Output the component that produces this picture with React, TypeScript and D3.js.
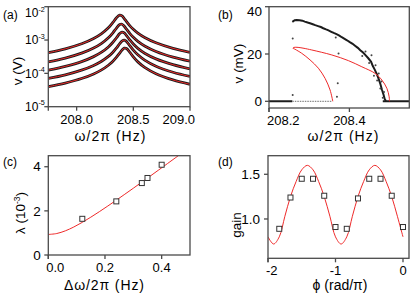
import React from "react";
import * as d3 from "d3";

const FONT = "'Liberation Sans', Arial, Helvetica, sans-serif";
const RED = "#ee2a2a";
const AXIS = "#4a4a4a";
const INK = "#1c1c1c";

// ---------- (a) resonance curves (V) ----------
const freqA = [207.75, 207.9, 208.05, 208.15, 208.22, 208.28, 208.32, 208.35, 208.38, 208.4, 208.42, 208.44, 208.47, 208.5, 208.54, 208.6, 208.7, 208.85, 209.0];
const ampA1 = [4.16e-4, 5.45e-4, 7.86e-4, 1.11e-3, 1.56e-3, 2.33e-3, 3.36e-3, 4.6e-3, 5.61e-3, 5.28e-3, 4.42e-3, 3.58e-3, 2.67e-3, 2.1e-3, 1.61e-3, 1.19e-3, 8.25e-4, 5.63e-4, 4.27e-4];
const ampA2 = [2.2e-4, 2.87e-4, 4.11e-4, 5.75e-4, 7.96e-4, 1.17e-3, 1.65e-3, 2.25e-3, 2.92e-3, 2.98e-3, 2.59e-3, 2.11e-3, 1.56e-3, 1.21e-3, 9.14e-4, 6.65e-4, 4.55e-4, 3.08e-4, 2.33e-4];
const ampA3 = [1.25e-4, 1.62e-4, 2.29e-4, 3.18e-4, 4.32e-4, 6.21e-4, 8.57e-4, 1.15e-3, 1.56e-3, 1.73e-3, 1.63e-3, 1.36e-3, 9.98e-4, 7.57e-4, 5.64e-4, 4.03e-4, 2.72e-4, 1.82e-4, 1.36e-4];
const ampA4 = [7.02e-5, 9.03e-5, 1.27e-4, 1.73e-4, 2.31e-4, 3.22e-4, 4.32e-4, 5.69e-4, 7.78e-4, 9.33e-4, 1.0e-3, 9.06e-4, 6.7e-4, 4.97e-4, 3.6e-4, 2.5e-4, 1.64e-4, 1.08e-4, 8.05e-5];
const ampA5 = [3.98e-5, 5.12e-5, 7.12e-5, 9.63e-5, 1.27e-4, 1.75e-4, 2.31e-4, 3.0e-4, 4.07e-4, 4.99e-4, 5.69e-4, 5.55e-4, 4.25e-4, 3.11e-4, 2.21e-4, 1.51e-4, 9.76e-5, 6.35e-5, 4.7e-5];
const ticksA_x = [208.0, 208.5, 209.0];
const ticksA_xLabels = ["208.0", "208.5", "209.0"];
const ticksA_y = [1e-5, 1e-4, 1e-3, 1e-2];
const ticksA_yExp = ["-5", "-4", "-3", "-2"];

// ---------- (b) bistable response (mV) ----------
const upperF = [208.258, 208.264, 208.269, 208.276, 208.283, 208.289, 208.296, 208.302, 208.309, 208.315, 208.322, 208.329, 208.335, 208.342, 208.348, 208.355, 208.361, 208.368, 208.375, 208.381, 208.388, 208.394, 208.401, 208.408, 208.414, 208.421, 208.427, 208.434, 208.44, 208.447, 208.454, 208.458, 208.463, 208.468, 208.473, 208.477, 208.481, 208.485, 208.488, 208.491];
const upperV = [33.6, 34.3, 34.4, 34.3, 34.1, 33.7, 33.3, 33.0, 32.6, 32.2, 31.8, 31.4, 30.9, 30.4, 30.0, 29.4, 28.9, 28.4, 27.8, 27.1, 26.4, 25.8, 25.0, 24.3, 23.5, 22.6, 21.6, 20.6, 19.5, 18.2, 16.7, 15.0, 13.4, 11.6, 9.4, 7.3, 4.9, 2.8, 0.9, 0.1];
const scatterF = [208.366, 208.432, 208.44, 208.449, 208.455, 208.461, 208.465, 208.469, 208.473, 208.477, 208.48, 208.486, 208.483, 208.373, 208.259, 208.259, 208.371, 208.369];
const scatterV = [27.0, 19.2, 21.1, 16.2, 19.5, 10.8, 15.2, 8.8, 11.8, 5.4, 8.4, 3.9, 1.5, 20.2, 26.6, 2.7, 7.6, 1.9];
const zeroBlackLow = [208.2, 208.258];
const zeroGreyLow = [208.258, 208.356];
const zeroBlackHigh = [208.483, 208.549];
const fitBF = [208.3587, 208.3519, 208.3395, 208.3228, 208.3021, 208.2814, 208.2648, 208.2593, 208.2623, 208.2723, 208.2871, 208.3064, 208.3562, 208.3975, 208.4309, 208.464, 208.4807, 208.4932, 208.4989, 208.4996];
const fitBV = [0, 4.8, 9.7, 14.0, 17.5, 20.3, 22.0, 22.5, 22.8, 22.8, 22.4, 21.7, 19.6, 17.2, 14.6, 11.8, 9.0, 5.5, 1.9, 0];
const ticksB_x = [208.2, 208.4];
const ticksB_xLabels = ["208.2", "208.4"];
const ticksB_y = [0, 20, 40];

// ---------- (c) lambda vs detuning ----------
const detuning = [0.12, 0.24, 0.33, 0.35, 0.4];
const lambdaVals = [1.64, 2.43, 3.26, 3.49, 4.09];
const fitDetuning = [0, 0.03, 0.06, 0.09, 0.12, 0.15, 0.18, 0.21, 0.24, 0.27, 0.3, 0.33, 0.36, 0.39, 0.42, 0.45, 0.48];
const fitLambda = [0.93, 0.974, 1.094, 1.269, 1.48, 1.714, 1.962, 2.22, 2.485, 2.754, 3.026, 3.302, 3.579, 3.858, 4.138, 4.419, 4.701];
const ticksC_x = [0, 0.2, 0.4];
const ticksC_xLabels = ["0.0", "0.2", "0.4"];
const ticksC_y = [0, 2, 4];

// ---------- (d) gain vs phase ----------
const phase = [-1.833, -1.667, -1.5, -1.333, -1.167, -1.0, -0.833, -0.667, -0.5, -0.333, -0.167, 0];
const gainVals = [0.89, 1.24, 1.45, 1.45, 1.26, 0.91, 0.89, 1.23, 1.45, 1.45, 1.26, 0.91];
const fitPhase = [-2, -1.917, -1.833, -1.75, -1.667, -1.583, -1.5, -1.417, -1.333, -1.25, -1.167, -1.083, -1, -0.917, -0.833, -0.75, -0.667, -0.583, -0.5, -0.417, -0.333, -0.25, -0.167, -0.083, 0];
const fitGain = [0.8, 0.72, 0.8, 1.03, 1.25, 1.42, 1.55, 1.6, 1.55, 1.42, 1.25, 1.03, 0.8, 0.72, 0.8, 1.03, 1.25, 1.42, 1.55, 1.6, 1.55, 1.42, 1.25, 1.03, 0.8];
const ticksD_x = [-2, -1, 0];
const ticksD_xLabels = ["-2", "-1", "0"];
const ticksD_y = [1.0, 1.5];
const ticksD_yLabels = ["1.0", "1.5"];

type Box = { x0: number; x1: number; y0: number; y1: number };
const boxA: Box = { x0: 48.3, x1: 190, y0: 6.7, y1: 106.7 };
const boxB: Box = { x0: 269, x1: 409.3, y0: 6.7, y1: 108 };
const boxC: Box = { x0: 48.3, x1: 190, y0: 155.7, y1: 255 };
const boxD: Box = { x0: 268, x1: 409, y0: 155.7, y1: 258.3 };

const FS = 13;
function textW(s: string): number {
  let w = 0;
  for (const c of s) w += c === "." ? 0.278 : c === "-" ? 0.333 : 0.556;
  return w * FS;
}

function Frame({ b }: { b: Box }) {
  return (
    <g stroke={AXIS} strokeWidth={1.3} fill="none">
      <rect x={b.x0} y={b.y0} width={b.x1 - b.x0} height={b.y1 - b.y0} />
      <line x1={b.x0} x2={b.x0} y1={b.y1} y2={b.y1 + 4} />
    </g>
  );
}

function XTicks({ b, scale, ticks, labels }: { b: Box; scale: (v: number) => number; ticks: number[]; labels: string[] }) {
  return (
    <g>
      {ticks.map((t, i) => {
        const x = scale(t);
        const w = textW(labels[i]);
        let cx = Math.max(x, b.x0 - 2 + w / 2);
        cx = Math.min(cx, b.x1 + 5 - w / 2);
        return (
          <g key={i}>
            <line x1={x} x2={x} y1={b.y1} y2={b.y1 + 4} stroke={AXIS} strokeWidth={1.3} />
            <text x={cx} y={b.y1 + 17} textAnchor="middle" fontSize={FS}>{labels[i]}</text>
          </g>
        );
      })}
    </g>
  );
}

function YTicks({ b, scale, ticks, labels, sup, gap, fs = FS }: { b: Box; scale: (v: number) => number; ticks: number[]; labels: string[]; sup?: boolean; gap: number; fs?: number }) {
  return (
    <g>
      {ticks.map((t, i) => {
        const y = scale(t);
        const base = Math.max(y + 0.35 * fs, b.y0 + (sup ? 10.7 : 0.72 * fs));
        return (
          <g key={i}>
            <line x1={b.x0 - 4} x2={b.x0} y1={y} y2={y} stroke={AXIS} strokeWidth={1.3} />
            {sup ? (
              <text x={b.x0 - gap} y={base} textAnchor="end" fontSize={fs}>
                10<tspan dy={-5.5} fontSize={7.2}>{labels[i]}</tspan>
              </text>
            ) : (
              <text x={b.x0 - gap} y={base} textAnchor="end" fontSize={fs}>{labels[i]}</text>
            )}
          </g>
        );
      })}
    </g>
  );
}

function YTitle({ x, y, children }: { x: number; y: number; children: React.ReactNode }) {
  return (
    <text transform={`translate(${x},${y}) rotate(-90)`} textAnchor="middle" dy="0.35em" fontSize={13.5}>
      {children}
    </text>
  );
}

function XTitle({ x, y, w, children }: { x: number; y: number; w?: number; children: React.ReactNode }) {
  return (
    <text x={x} y={y} textAnchor="middle" fontSize={14} textLength={w} lengthAdjust={w ? "spacing" : undefined}>
      {children}
    </text>
  );
}

function Square({ x, y }: { x: number; y: number }) {
  return <rect x={x - 2.5} y={y - 2.5} width={5} height={5} fill="white" stroke="#333" strokeWidth={1} />;
}

export default function App() {
  // (a)
  const xA = d3.scaleLinear().domain([207.75, 209.0]).range([boxA.x0, boxA.x1]);
  const yA = d3.scaleLog().domain([1e-5, 1e-2]).range([boxA.y1, boxA.y0]);
  const lineA = (arr: number[]) =>
    d3.line<number>().x((_, i) => xA(freqA[i])).y((d) => yA(d)).curve(d3.curveCatmullRom.alpha(0.5))(arr) || "";
  const seriesA = [ampA1, ampA2, ampA3, ampA4, ampA5];

  // (b)
  const xB = d3.scaleLinear().domain([208.2, 208.549]).range([boxB.x0, boxB.x1]);
  const yB = d3.scaleLinear().domain([-2.83, 40]).range([boxB.y1, boxB.y0]);
  const upperPath = d3.line<number>().x((_, i) => xB(upperF[i])).y((d) => yB(d))(upperV) || "";
  const fitBPath = d3.line<number>().x((_, i) => xB(fitBF[i])).y((d) => yB(d)).curve(d3.curveCatmullRom.alpha(0.5))(fitBV) || "";

  // (c)
  const xC = d3.scaleLinear().domain([0, 0.5]).range([boxC.x0, boxC.x1]);
  const yC = d3.scaleLinear().domain([0, 4.5]).range([boxC.y1, boxC.y0]);
  const fitCPath = d3.line<number>().x((_, i) => xC(fitDetuning[i])).y((d) => yC(d)).curve(d3.curveCatmullRom.alpha(0.5))(fitLambda) || "";

  // (d)
  const xD = d3.scaleLinear().domain([-2, 0.089]).range([boxD.x0, boxD.x1]);
  const yD = d3.scaleLinear().domain([0.56, 1.708]).range([boxD.y1, boxD.y0]);
  const fitDPath = d3.line<number>().x((_, i) => xD(fitPhase[i])).y((d) => yD(d)).curve(d3.curveCatmullRom.alpha(0.5))(fitGain) || "";

  const clip = (id: string, b: Box) => (
    <clipPath id={id}>
      <rect x={b.x0} y={b.y0} width={b.x1 - b.x0} height={b.y1 - b.y0} />
    </clipPath>
  );

  return (
    <svg width={415} height={293} style={{ position: "absolute", left: 0, top: 0 }} fontFamily={FONT} fill="#000">
      <rect width={415} height={293} fill="white" />
      <defs>
        {clip("cA", boxA)}
        {clip("cB", boxB)}
        {clip("cC", boxC)}
        {clip("cD", boxD)}
      </defs>

      {/* ---------- (a) ---------- */}
      <g clipPath="url(#cA)">
        {seriesA.map((s, i) => (
          <path key={"k" + i} d={lineA(s)} fill="none" stroke={INK} strokeWidth={2.8} />
        ))}
        {seriesA.map((s, i) => (
          <path key={"r" + i} d={lineA(s)} fill="none" stroke={RED} strokeWidth={1} />
        ))}
      </g>
      <Frame b={boxA} />
      <XTicks b={boxA} scale={xA} ticks={ticksA_x} labels={ticksA_xLabels} />
      <YTicks b={boxA} scale={yA} ticks={ticksA_y} labels={ticksA_yExp} sup gap={3.5} fs={12} />
      <YTitle x={17} y={71}>v (V)</YTitle>
      <XTitle x={110} y={141} w={71}>ω/2π (Hz)</XTitle>
      <text x={3} y={19} fontSize={12}>(a)</text>

      {/* ---------- (b) ---------- */}
      <g clipPath="url(#cB)">
        <line x1={xB(zeroBlackLow[0])} x2={xB(zeroBlackLow[1])} y1={yB(0)} y2={yB(0)} stroke={INK} strokeWidth={2} />
        <line x1={xB(zeroGreyLow[0])} x2={xB(zeroGreyLow[1])} y1={yB(0)} y2={yB(0)} stroke="#8a8a8a" strokeWidth={1.3} strokeDasharray="1.5,1" />
        <line x1={xB(zeroBlackHigh[0])} x2={xB(zeroBlackHigh[1])} y1={yB(0)} y2={yB(0)} stroke={INK} strokeWidth={2} />
        <path d={upperPath} fill="none" stroke={INK} strokeWidth={2} />
        {scatterF.map((f, i) => (
          <circle key={i} cx={xB(f)} cy={yB(scatterV[i])} r={1} fill="#444" />
        ))}
        <path d={fitBPath} fill="none" stroke={RED} strokeWidth={1} />
      </g>
      <Frame b={boxB} />
      <XTicks b={boxB} scale={xB} ticks={ticksB_x} labels={ticksB_xLabels} />
      <YTicks b={boxB} scale={yB} ticks={ticksB_y} labels={ticksB_y.map(String)} gap={7} fs={13.5} />
      <YTitle x={238} y={63.5}>v (mV)</YTitle>
      <XTitle x={343} y={141} w={71}>ω/2π (Hz)</XTitle>
      <text x={218} y={19} fontSize={12}>(b)</text>

      {/* ---------- (c) ---------- */}
      <g clipPath="url(#cC)">
        <path d={fitCPath} fill="none" stroke={RED} strokeWidth={1} />
        {detuning.map((d, i) => (
          <Square key={i} x={xC(d)} y={yC(lambdaVals[i])} />
        ))}
      </g>
      <Frame b={boxC} />
      <XTicks b={boxC} scale={xC} ticks={ticksC_x} labels={ticksC_xLabels} />
      <YTicks b={boxC} scale={yC} ticks={ticksC_y} labels={ticksC_y.map(String)} gap={7.5} fs={13.5} />
      <YTitle x={20} y={213}>
        λ (10<tspan dy={-5} fontSize={8.5}>-3</tspan><tspan dy={5}>)</tspan>
      </YTitle>
      <XTitle x={104} y={290} w={80}>Δω/2π (Hz)</XTitle>
      <text x={3} y={166} fontSize={12}>(c)</text>

      {/* ---------- (d) ---------- */}
      <g clipPath="url(#cD)">
        <path d={fitDPath} fill="none" stroke={RED} strokeWidth={1} />
        {phase.map((p, i) => (
          <Square key={i} x={xD(p)} y={yD(gainVals[i])} />
        ))}
      </g>
      <Frame b={boxD} />
      <XTicks b={boxD} scale={xD} ticks={ticksD_x} labels={ticksD_xLabels} />
      <YTicks b={boxD} scale={yD} ticks={ticksD_y} labels={ticksD_yLabels} gap={8} fs={13.5} />
      <YTitle x={236} y={225}>gain</YTitle>
      <XTitle x={340} y={290}>ϕ (rad/π)</XTitle>
      <text x={218} y={166} fontSize={12}>(d)</text>
    </svg>
  );
}
